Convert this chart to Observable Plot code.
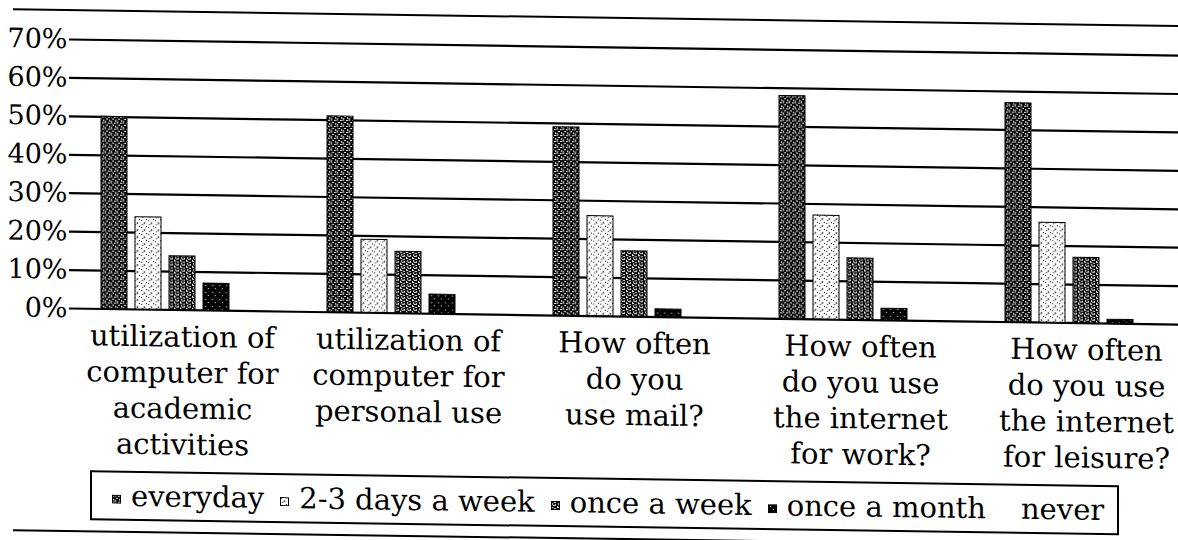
<!DOCTYPE html>
<html>
<head>
<meta charset="utf-8">
<script src="https://cdn.jsdelivr.net/npm/d3@7"></script>
<script src="https://cdn.jsdelivr.net/npm/@observablehq/plot@0.6"></script>
<style>
  html, body { margin: 0; padding: 0; background: #fff; overflow: hidden; }
  #page { position: relative; width: 1200px; height: 540px; transform: skewY(0.83deg); transform-origin: 0 0;
          font-family: "DejaVu Serif", serif; color: #000; }
  #topline { position: absolute; left: 13px; top: 8px; width: 1300px; border-top: 2px solid #000; }
  #botline { position: absolute; left: 13px; top: 529px; width: 1300px; border-top: 2px solid #000; }
  #chart { position: absolute; left: 0; top: 0; }
  #legend { position: absolute; left: 90px; top: 469px; height: 46px; border: 2px solid #000;
            display: flex; align-items: center; padding: 0 13px 0 20px; font-size: 29px; white-space: nowrap; background: #fff; }
  .item { display: flex; align-items: center; margin-right: 16px; }
  .item:last-child { margin-right: 0; }
  .sw { width: 9px; height: 9px; margin-right: 10px; position: relative; top: 3px; display: block; }
</style>
</head>
<body>
<svg width="0" height="0" style="position:absolute">
  <defs>
    <pattern id="pat-everyday" width="6" height="6" patternUnits="userSpaceOnUse">
      <rect width="6" height="6" fill="#000"/>
      <rect x="0" y="1" width="2" height="1" fill="#fff"/>
      <rect x="3" y="0" width="1" height="2" fill="#fff"/>
      <rect x="4" y="3" width="2" height="1" fill="#fff"/>
      <rect x="1" y="4" width="1" height="2" fill="#fff"/>
      <rect x="3" y="5" width="1" height="1" fill="#fff"/>
    </pattern>
    <pattern id="pat-days" width="7" height="7" patternUnits="userSpaceOnUse">
      <rect width="7" height="7" fill="#fff"/>
      <rect x="1" y="1" width="1" height="1" fill="#000"/>
      <rect x="4" y="3" width="1" height="2" fill="#000"/>
      <rect x="2" y="5" width="1" height="1" fill="#000"/>
      <rect x="6" y="0" width="1" height="1" fill="#000"/>
    </pattern>
    <pattern id="pat-week" width="6" height="6" patternUnits="userSpaceOnUse">
      <rect width="6" height="6" fill="#000"/>
      <rect x="0" y="0" width="2" height="1" fill="#fff"/>
      <rect x="3" y="1" width="2" height="1" fill="#fff"/>
      <rect x="1" y="2" width="1" height="2" fill="#fff"/>
      <rect x="4" y="3" width="1" height="2" fill="#fff"/>
      <rect x="2" y="4" width="2" height="1" fill="#fff"/>
      <rect x="0" y="5" width="1" height="1" fill="#fff"/>
    </pattern>
    <pattern id="pat-month" width="7" height="7" patternUnits="userSpaceOnUse">
      <rect width="7" height="7" fill="#000"/>
      <rect x="2" y="2" width="1" height="1" fill="#fff"/>
      <rect x="5" y="5" width="1" height="1" fill="#fff"/>
    </pattern>
  </defs>
</svg>
<div id="page">
  <div id="topline"></div>
  <div id="chart"></div>
  <div id="legend"></div>
  <div id="botline"></div>
</div>
<script>
// ---- data ----
const categories = [
  "utilization of computer for academic activities",
  "utilization of computer for personal use",
  "How often do you use mail?",
  "How often do you use the internet for work?",
  "How often do you use the internet for leisure?"
];
const categoryLabels = [
  "utilization of\ncomputer for\nacademic\nactivities",
  "utilization of\ncomputer for\npersonal use",
  "How often\ndo you\nuse mail?",
  "How often\ndo you use\nthe internet\nfor work?",
  "How often\ndo you use\nthe internet\nfor leisure?"
];
const series = ["everyday", "2-3 days a week", "once a week", "once a month", "never"];
const everyday  = [50, 51, 49, 58, 57];
const days23    = [24, 19, 26, 27, 26];
const onceWeek  = [14, 16, 17, 16, 17];
const onceMonth = [7, 5, 2, 3, 1];
const never     = [0, 0, 0, 0, 0];
const yTicks = [0, 10, 20, 30, 40, 50, 60, 70];
const yTickLabels = ["0%", "10%", "20%", "30%", "40%", "50%", "60%", "70%"];

// ---- build table ----
const seriesValues = [everyday, days23, onceWeek, onceMonth, never];
const data = categories.flatMap((c, i) =>
  series.map((s, j) => ({category: c, series: s, value: seriesValues[j][i]})));
const fills = ["url(#pat-everyday)", "url(#pat-days)", "url(#pat-week)", "url(#pat-month)", "#fff"];

const chart = Plot.plot({
  width: 1200,
  height: 465,
  marginLeft: 69,
  marginRight: 1,
  marginTop: 38,
  marginBottom: 158,
  style: {fontFamily: '"DejaVu Serif", serif', background: "transparent", color: "#000", overflow: "visible"},
  fx: {domain: categories, padding: 0, label: null},
  x: {domain: series, paddingInner: 0.246, paddingOuter: 0.898, axis: null},
  y: {domain: [0, 70], axis: null},
  color: {domain: series, range: fills},
  marks: [
    Plot.gridY(yTicks, {stroke: "#000", strokeOpacity: 1, strokeWidth: 2.2}),
    Plot.axisY(yTicks, {tickSize: 0, tickPadding: 2, fontSize: 27, label: null,
      tickFormat: d => yTickLabels[yTicks.indexOf(d)]}),
    Plot.axisFx({anchor: "bottom", tickSize: 0, tickPadding: 11, fontSize: 29, lineHeight: 1.24, label: null,
      tickFormat: d => categoryLabels[categories.indexOf(d)]}),
    Plot.barY(data, {fx: "category", x: "series", y: "value", fill: "series",
      stroke: "#000", strokeWidth: 1})
  ]
});
document.getElementById("chart").appendChild(chart);

// ---- legend ----
const legend = document.getElementById("legend");
series.forEach((s, j) => {
  const item = document.createElement("div");
  item.className = "item";
  const ns = "http://www.w3.org/2000/svg";
  const sw = document.createElementNS(ns, "svg");
  sw.setAttribute("class", "sw");
  sw.setAttribute("width", "9");
  sw.setAttribute("height", "9");
  const r = document.createElementNS(ns, "rect");
  r.setAttribute("x", "0.5"); r.setAttribute("y", "0.5");
  r.setAttribute("width", "8"); r.setAttribute("height", "8");
  r.setAttribute("fill", fills[j]);
  r.setAttribute("stroke", s === "never" ? "none" : "#000");
  sw.appendChild(r);
  const t = document.createElement("span");
  t.textContent = s;
  item.appendChild(sw);
  item.appendChild(t);
  legend.appendChild(item);
});
</script>
</body>
</html>
